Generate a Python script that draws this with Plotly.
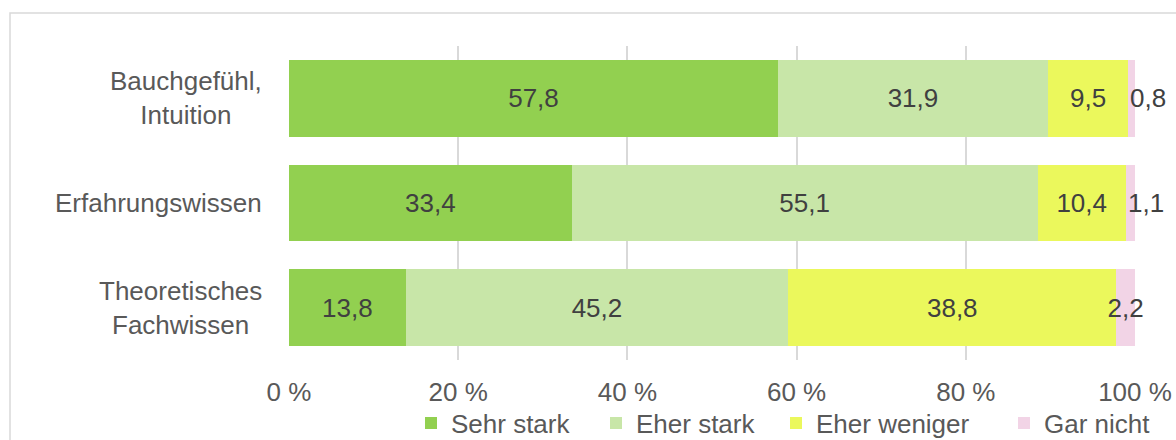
import plotly.graph_objects as go

categories = ["Bauchgefühl, Intuition", "Erfahrungswissen", "Theoretisches Fachwissen"]
category_labels = ["Bauchgefühl,<br>Intuition", "Erfahrungswissen", "Theoretisches<br>Fachwissen"]
series_names = ["Sehr stark", "Eher stark", "Eher weniger", "Gar nicht"]
sehr_stark = [57.8, 33.4, 13.8]
eher_stark = [31.9, 55.1, 45.2]
eher_weniger = [9.5, 10.4, 38.8]
gar_nicht = [0.8, 1.1, 2.2]
tick_values = [0, 20, 40, 60, 80, 100]
tick_labels = ["0 %", "20 %", "40 %", "60 %", "80 %", "100 %"]

colors = ["#92D050", "#C8E6A8", "#EBF85C", "#F2D4E6"]
series_values = [sehr_stark, eher_stark, eher_weniger, gar_nicht]

FONT = "Liberation Sans, Arial, sans-serif"
FS = 26
LABEL_COLOR = "#404040"
W, H = 1176, 440
PX0, PX1, PY0, PY1 = 289, 1135, 46, 360
ML, MR, MT, MB = PX0, W - PX1, PY0, H - PY1
PW, PH = PX1 - PX0, PY1 - PY0


def px_x(x):
    return (x - PX0) / PW


def px_y(y):
    return (PY1 - y) / PH


legend_square_centers = [431, 616, 796, 1024]
legend_names = ["legend", "legend2", "legend3", "legend4"]
SMALL = 2.0  # segments narrower than this get their label shifted right

fig = go.Figure()
for i, (name, vals, col) in enumerate(zip(series_names, series_values, colors)):
    texts = [("" if (i == 3 and v < SMALL) else f"{v:.1f}".replace(".", ",")) for v in vals]
    fig.add_trace(go.Bar(
        y=categories, x=vals, name=name, orientation="h",
        marker=dict(color=col, line=dict(width=0)),
        text=texts, texttemplate="%{text}", textposition="inside", textangle=0,
        insidetextanchor="middle", constraintext="none", cliponaxis=False,
        textfont=dict(family=FONT, size=FS, color=LABEL_COLOR),
        hoverinfo="skip", legend=legend_names[i],
    ))

# labels of the very thin "Gar nicht" segments, set just right of the segment
for j, cat in enumerate(categories):
    v = gar_nicht[j]
    if v < SMALL:
        total = sehr_stark[j] + eher_stark[j] + eher_weniger[j] + v
        fig.add_annotation(
            x=total - v / 2, xref="x", y=cat, yref="y",
            text=f"{v:.1f}".replace(".", ","), showarrow=False,
            xanchor="center", xshift=16,
            font=dict(family=FONT, size=FS, color=LABEL_COLOR),
        )

for cat, lab in zip(categories, category_labels):
    fig.add_annotation(
        x=px_x(264), xref="paper", y=cat, yref="y",
        text=lab, showarrow=False, xanchor="right", align="center",
        font=dict(family=FONT, size=FS, color="#595959"),
    )

# chart area border
fig.add_shape(type="rect", xref="paper", yref="paper",
              x0=px_x(10), x1=1.3, y0=-0.6, y1=px_y(13),
              line=dict(color="#D9D9D9", width=1.5), layer="below")

legend_common = dict(orientation="h", xanchor="left", yanchor="middle",
                     font=dict(family=FONT, size=FS, color="#595959"),
                     bgcolor="rgba(0,0,0,0)", itemwidth=30)
legends = {}
for ln, cx in zip(legend_names, legend_square_centers):
    legends[ln] = dict(legend_common, x=px_x(cx - 20), y=px_y(423))

fig.update_layout(
    width=W, height=H,
    margin=dict(l=ML, r=MR, t=MT, b=MB, autoexpand=False),
    barmode="stack", bargap=0.27,
    separators=", ",
    plot_bgcolor="white", paper_bgcolor="white",
    font=dict(family=FONT, size=FS, color="#595959"),
    xaxis=dict(range=[0, 100], tickvals=tick_values, ticktext=tick_labels,
               showgrid=True, gridcolor="#D9D9D9", gridwidth=1.5,
               zeroline=False, showline=False, ticks="", ticklabelstandoff=14,
               tickfont=dict(family=FONT, size=FS, color="#595959")),
    yaxis=dict(autorange="reversed", showticklabels=False, showgrid=False,
               zeroline=False, showline=False, ticks=""),
    showlegend=True,
    **legends,
)

fig.write_html(
    "out.html",
    config={"displayModeBar": False},
    post_script="document.body.style.margin='0';document.body.style.overflow='hidden';",
)
